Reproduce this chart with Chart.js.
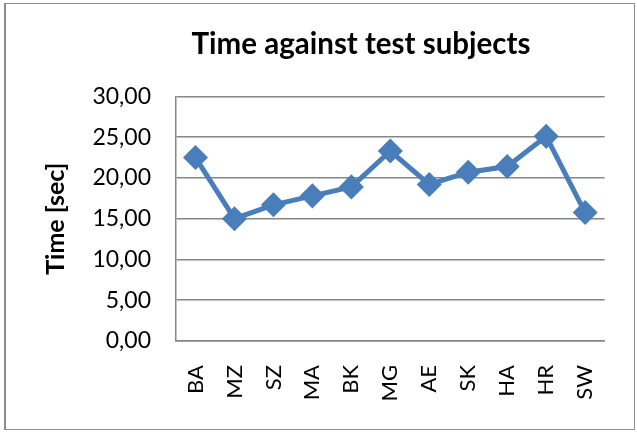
<!DOCTYPE html>
<html>
<head>
<meta charset="utf-8">
<script src="https://cdn.jsdelivr.net/npm/chart.js@4"></script>
<style>
  body { margin: 0; background: #fff; }
  #wrap { position: relative; width: 637px; height: 434px; }
  #frame { position: absolute; left: 4px; top: 3px; width: 628px; height: 425px;
           border: 1px solid #8c8c8c; border-left-width: 2px; }
  canvas { position: absolute; left: 0; top: 0; }
</style>
</head>
<body>
<div id="wrap">
  <div id="frame"></div>
  <canvas id="myChart" width="637" height="434"></canvas>
</div>
<script>
const subjects = ['BA', 'MZ', 'SZ', 'MA', 'BK', 'MG', 'AE', 'SK', 'HA', 'HR', 'SW'];
const times = [22.5, 15.0, 16.7, 17.8, 18.9, 23.3, 19.2, 20.7, 21.4, 25.1, 15.75];
const yTicks = [0, 5, 10, 15, 20, 25, 30];

const ctx = document.getElementById('myChart');
const font = 'Lato, Calibri, "Open Sans", sans-serif';

// the Excel title sits a bit right of the canvas centre
const shiftTitle = {
  id: 'shiftTitle',
  afterLayout(chart) {
    if (chart.titleBlock) chart.titleBlock.left = 117;
  }
};

new Chart(ctx, {
  type: 'line',
  data: {
    labels: subjects,
    datasets: [{
      label: 'Time',
      data: times,
      borderColor: '#4a7ebb',
      backgroundColor: '#4a7ebb',
      borderWidth: 5,
      pointStyle: 'rectRot',
      pointRadius: 9,
      pointHoverRadius: 9,
      tension: 0
    }]
  },
  options: {
    responsive: false,
    animation: false,
    layout: { padding: { left: 0, right: 32, top: 4, bottom: 0 } },
    plugins: {
      legend: { display: false },
      tooltip: { enabled: false },
      title: {
        display: true,
        text: 'Time against test subjects',
        color: '#000',
        font: { family: font, size: 29.5, weight: 'bold' },
        padding: { top: 23, bottom: 34 }
      }
    },
    scales: {
      x: {
        offset: true,
        grid: { display: false, drawTicks: false },
        border: { display: true, color: '#868686', width: 1.5 },
        ticks: {
          color: '#000',
          font: { family: font, size: 22 },
          maxRotation: 90,
          minRotation: 90,
          padding: 24
        },
        afterFit: function(scale) { scale.height = 93; }
      },
      y: {
        min: 0,
        max: 30,
        afterBuildTicks: function(scale) {
          scale.ticks = yTicks.map(v => ({ value: v }));
        },
        grid: { color: '#868686', lineWidth: 1.5, drawTicks: false },
        border: { display: true, color: '#868686', width: 1.5 },
        ticks: {
          color: '#000',
          font: { family: font, size: 23 },
          padding: 25,
          callback: v => v.toFixed(2).replace('.', ',')
        },
        title: {
          display: true,
          text: 'Time [sec]',
          color: '#000',
          font: { family: font, size: 25, weight: 'bold' },
          padding: { top: 41, bottom: 0 }
        },
        afterFit: function(scale) { scale.width = 176; }
      }
    }
  },
  plugins: [shiftTitle]
});
</script>
</body>
</html>
